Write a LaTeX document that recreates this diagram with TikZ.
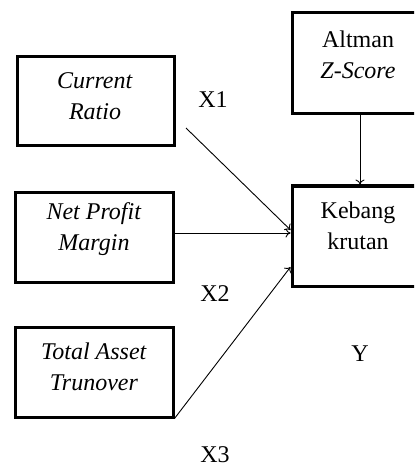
\documentclass[tikz,border=0pt]{standalone}
\usepackage{fontspec}
\setmainfont{Liberation Serif}
\usetikzlibrary{arrows.meta}

\begin{document}
\begin{tikzpicture}[
  x=1pt, y=-1pt,
  >={To[length=5pt,width=9pt]},
  box/.style={draw=black, line width=3pt, inner sep=0pt},
  boxtext/.style={align=center, font=\fontsize{24}{31}\selectfont},
  var/.style={font=\fontsize{24}{29}\selectfont},
  link/.style={draw=black, line width=0.9pt, ->},
  ]
  \useasboundingbox (0,0) rectangle (414,470);
  \clip (0,0) rectangle (414,470);

  %% Independent variables
  \node[box, minimum width=157pt, minimum height=89pt] (cr) at (95.5,101.5) {};
  \node[boxtext] at (95,96) {\textit{Current}\\\textit{Ratio}};

  \node[box, minimum width=158pt, minimum height=90pt] (npm) at (94,237) {};
  \node[boxtext] at (94,229) {\textit{Net Profit}\\\textit{Margin}};

  \node[box, minimum width=158pt, minimum height=90pt] (tat) at (94,372) {};
  \node[boxtext] at (94,367) {\textit{Total Asset}\\\textit{Trunover}};

  %% Dependent variable and Z-Score
  \node[box, minimum width=136pt, minimum height=101pt] (zs) at (360,63.5) {};
  \node[boxtext] at (358,55) {Altman\\\textit{Z-Score}};

  \node[box, minimum width=136pt, minimum height=100pt] (kb) at (360,236) {};
  \node[boxtext] at (358,226) {Kebang\\krutan};

  % Labels
  \node[var] (x1) at (213,100) {X1};
  \node[var] (x2) at (215,294) {X2};
  \node[var] (x3) at (215,455) {X3};
  \node[var] (y)  at (360,354) {Y};

  % Arrows
  \coordinate (crout) at (186,128);
  \draw[link] (crout) -- ([yshift=6pt]kb.west);
  \draw[link] ([yshift=4pt]npm.east) -- ([yshift=3pt]kb.west);
  \draw[link] (tat.south east) -- ([yshift=-31pt]kb.west);
  \draw[link] (zs.south) -- (kb.north);

\end{tikzpicture}
\end{document}
